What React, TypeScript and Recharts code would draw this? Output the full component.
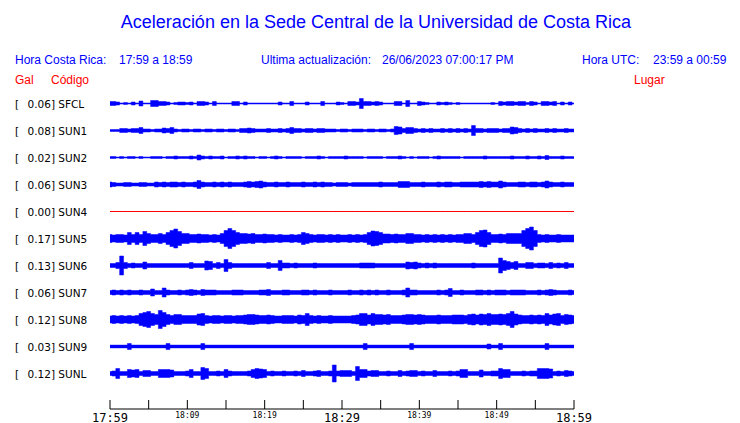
import React from 'react';
import { ComposedChart, Area, XAxis, YAxis } from 'recharts';

// station codes, peak acceleration (Gal) and site names, top to bottom
const stations = ['SFCL', 'SUN1', 'SUN2', 'SUN3', 'SUN4', 'SUN5', 'SUN6', 'SUN7', 'SUN8', 'SUN9', 'SUNL'];
const peakGal = ['0.06', '0.08', '0.02', '0.06', '0.00', '0.17', '0.13', '0.06', '0.12', '0.03', '0.12'];
const places = [
  'Finca El Corralillo, Coronado', 'CIMAR', 'Ingenieria P01', 'Ingenieria P06', 'EBCI', 'Rectoria',
  'Agroalimentarias', 'Archivo', 'Electrica P06', 'Electrica P01', 'LANAMME-CTT',
];

// x axis: minutes after 17:59, one tick every 5 min, labels every 10 min
const tickMinutes = [0, 5, 10, 15, 20, 25, 30, 35, 40, 45, 50, 55, 60];
const tickLabels = ['17:59', '', '18:09', '', '18:19', '', '18:29', '', '18:39', '', '18:49', '', '18:59'];
const majorLabels = ['17:59', '18:29', '18:59'];

// trace envelopes (half amplitude, display counts), one value every 30 s from 17:59 to 18:59
const sfcl = [
  2, 2, 1.5, 0.5, 1, 0.5, 1.5, 0.5, 2.5, 0.5,
  0.5, 3, 3, 2, 2, 1.5, 0.5, 1, 1.5, 1.5,
  1, 1.5, 0.5, 2, 2, 1.5, 0.5, 2, 0.5, 0.5,
  0.5, 0.5, 2, 2, 0.5, 1.5, 0.5, 0.5, 0.5, 0.5,
  0.5, 0.5, 0.5, 0.5, 1.5, 0.5, 0.5, 2, 0.5, 0.5,
  0.5, 1.5, 0.5, 0.5, 0.5, 2, 0.5, 0.5, 0.5, 1.5,
  1, 0.5, 2, 2, 1.5, 5, 2, 2, 1.5, 2,
  1.5, 0.5, 0.5, 0.5, 2, 2, 0.5, 3, 0.5, 0.5,
  2, 1.5, 1, 0.5, 0.5, 1.5, 1, 1.5, 1, 0.5,
  1, 0.5, 0.5, 0.5, 0.5, 0.5, 0.5, 0.5, 0.5, 1,
  0.5, 2, 1.5, 2, 2, 1.5, 2, 2, 1, 2,
  1.5, 0.5, 2, 2, 1.5, 2, 0.5, 1.5, 0.5, 1.5,
  0.5,
];
const sun1 = [
  1, 1, 1, 2, 2, 1.5, 2, 2, 3, 1.5,
  1.5, 1, 1.5, 1.5, 2.5, 2, 3, 1.5, 1, 1.5,
  1.5, 1, 1.5, 1.5, 1, 1.5, 1.5, 1, 1.5, 1.5,
  1, 1.5, 1.5, 1, 2, 2, 2.5, 2, 1.5, 1.5,
  1.5, 2, 1.5, 1.5, 2, 1.5, 2, 3, 2, 2,
  1.5, 2, 2, 1.5, 2, 2, 1.5, 1.5, 1.5, 1,
  1.5, 1.5, 1, 1.5, 1.5, 1.5, 1, 1.5, 1.5, 1,
  1.5, 1.5, 1, 1.5, 4, 3.5, 2, 3, 3, 2,
  1.5, 2, 1.5, 2, 1.5, 1.5, 2, 1.5, 2, 1.5,
  2, 1.5, 2, 1.5, 5, 2, 2, 1.5, 2, 2,
  2, 1.5, 2, 2, 3.5, 3, 2, 1.5, 2, 1.5,
  2, 1.5, 1.5, 2, 1.5, 2, 1.5, 1.5, 2, 1.5,
  1.5,
];
const sun2 = [
  1, 1, 0.5, 1, 0.5, 1, 1, 0.5, 1, 0.5,
  0.5, 1, 1, 1, 0.5, 1, 1, 1.5, 1, 1,
  1, 1.5, 1, 2.5, 1.5, 1, 1.5, 1, 1, 1.5,
  0.5, 1, 1, 1.5, 1, 1.5, 1, 1, 0.5, 1,
  1, 0.5, 1, 1.5, 1, 0.5, 1, 1, 1, 1,
  0.5, 1, 1, 1, 1.5, 1, 0.5, 1, 1, 1,
  1, 1.5, 1, 1, 1, 1, 0.5, 1, 1, 1,
  1, 0.5, 1, 1, 1, 1.5, 1, 0.5, 1, 0.5,
  1, 1, 1, 0.5, 1, 1.5, 1, 1, 1, 1,
  1, 0.5, 1, 1, 1, 1, 1, 1.5, 1, 1,
  1, 1, 1, 1, 1.5, 1, 1, 1, 1.5, 1,
  1, 1.5, 1, 2, 1, 1, 1, 1.5, 1, 1,
  1,
];
const sun3 = [
  2.5, 2, 1.5, 1.5, 2, 2, 1.5, 1.5, 2, 2,
  1.5, 1.5, 2.5, 2, 2.5, 2, 2.5, 2.5, 2, 2.5,
  2, 2, 2.5, 4, 2.5, 2, 2, 2.5, 2, 2.5,
  2, 2.5, 2, 2, 2, 2.5, 3, 2.5, 3, 3.5,
  2.5, 2, 2, 2.5, 2, 2, 2.5, 2, 2, 2,
  2.5, 2, 2, 2.5, 2, 2.5, 2, 2, 1.5, 2,
  2, 2, 1.5, 2, 2, 2, 2, 2, 2, 2,
  2.5, 2, 2, 2, 2, 3, 3, 3, 2, 2,
  2, 2.5, 2, 2, 2, 2.5, 2, 2.5, 2.5, 2,
  2, 2.5, 2.5, 2.5, 2.5, 2.5, 3, 2.5, 3, 2.5,
  2.5, 3.5, 2.5, 2, 2, 2, 2.5, 2.5, 2, 2.5,
  2.5, 2, 2.5, 3.5, 2.5, 2, 2, 2.5, 2, 2,
  2,
];
const sun4 = [
  0, 0, 0, 0, 0, 0, 0, 0, 0, 0,
  0, 0, 0, 0, 0, 0, 0, 0, 0, 0,
  0, 0, 0, 0, 0, 0, 0, 0, 0, 0,
  0, 0, 0, 0, 0, 0, 0, 0, 0, 0,
  0, 0, 0, 0, 0, 0, 0, 0, 0, 0,
  0, 0, 0, 0, 0, 0, 0, 0, 0, 0,
  0, 0, 0, 0, 0, 0, 0, 0, 0, 0,
  0, 0, 0, 0, 0, 0, 0, 0, 0, 0,
  0, 0, 0, 0, 0, 0, 0, 0, 0, 0,
  0, 0, 0, 0, 0, 0, 0, 0, 0, 0,
  0, 0, 0, 0, 0, 0, 0, 0, 0, 0,
  0, 0, 0, 0, 0, 0, 0, 0, 0, 0,
  0,
];
const sun5 = [
  4, 3.5, 4, 4, 3.5, 6, 4, 6, 4, 7,
  5, 4, 4, 5, 4, 6, 8, 9.5, 7, 5,
  5, 4, 4, 4.5, 4, 4, 3.5, 4, 3.5, 5,
  8, 10, 8, 6, 5, 5, 4.5, 5, 4, 4,
  4.5, 4, 4, 3.5, 4, 3.5, 3.5, 4, 3.5, 4,
  6, 5, 4, 3.5, 4, 4, 3.5, 4, 3.5, 4,
  3.5, 3.5, 4, 3.5, 4, 3.5, 4, 6, 7.5, 7,
  6, 4.5, 4.5, 4, 4.5, 4, 4, 5, 5, 4,
  4, 3.5, 4, 3.5, 4, 3.5, 4, 3.5, 4, 3.5,
  4, 4, 5, 5, 4, 6, 8, 8.5, 6, 4,
  4, 4.5, 4, 5, 5, 5, 5, 8, 10, 11.5,
  8, 4, 3.5, 4, 3.5, 3.5, 4, 3.5, 3.5, 3.5,
  3.5,
];
const sun6 = [
  2, 2, 3, 9.5, 3, 2, 2.5, 2, 2, 3.5,
  2, 2, 2, 2, 2, 2, 2, 2, 2, 2,
  2, 3, 2, 2, 2, 4.5, 4, 2, 3, 2,
  6, 3, 2, 2, 2, 2, 2, 2, 2, 2,
  2, 3, 2, 2, 5, 2.5, 2.5, 2, 2.5, 2,
  2, 2, 2, 2.5, 2, 2, 2, 2, 2, 2,
  2, 2, 2, 2, 2, 2.5, 2.5, 2.5, 2.5, 2,
  2, 2, 2, 2, 2, 2, 2, 3.5, 3, 3.5,
  2.5, 2, 2.5, 2, 2.5, 2, 2, 2, 2, 2,
  2, 2, 2, 2, 2.5, 2, 2, 2, 2, 2,
  2, 7.5, 5, 4, 3, 4, 2, 2, 3, 3,
  2, 2.5, 2.5, 2, 3, 2, 2.5, 2, 3, 2,
  2,
];
const sun7 = [
  2, 2.5, 2, 2.5, 2, 2.5, 2, 2, 2.5, 2,
  2, 3.5, 2, 2, 4.5, 2.5, 2, 2, 2.5, 2,
  2.5, 3, 2.5, 2, 3, 2.5, 2.5, 2.5, 2, 2,
  2, 2, 2.5, 2.5, 2.5, 2, 2, 2, 2, 2.5,
  2.5, 3, 2, 2, 2, 2.5, 2.5, 2, 2, 2,
  2.5, 2.5, 2, 2.5, 2, 2, 2, 2.5, 2, 2,
  2, 2, 2.5, 2, 2, 2.5, 2, 2.5, 2, 2.5,
  2, 2, 2.5, 2, 2, 2, 2.5, 4.5, 2.5, 2.5,
  2, 2, 2, 2, 2, 2.5, 2, 2.5, 4, 2,
  2, 2.5, 2, 2, 2, 2.5, 2.5, 2, 2.5, 2,
  2.5, 2.5, 2.5, 2, 2.5, 2.5, 2.5, 2.5, 2, 2,
  2, 2.5, 2, 2.5, 3, 2.5, 2, 2, 2, 2.5,
  2,
];
const sun8 = [
  3.5, 4, 3.5, 4, 3.5, 4, 3.5, 4, 6, 7,
  8, 6, 5, 9, 7, 5, 4, 5, 5, 4,
  4, 4, 4, 5.5, 6, 4, 3.5, 4, 4, 3.5,
  4, 4, 3.5, 4, 4, 4.5, 5, 5, 4.5, 4,
  4, 4.5, 4, 3.5, 3.5, 4, 4, 4, 3.5, 4.5,
  4, 6, 4, 3.5, 4, 3.5, 3.5, 4, 3.5, 3.5,
  3.5, 3.5, 3.5, 4, 4.5, 6, 6, 4.5, 6, 5,
  5, 4.5, 5, 4, 4, 4, 4.5, 5, 5, 4.5,
  5, 4.5, 4, 4, 4, 4.5, 4, 4, 4, 4.5,
  4.5, 4.5, 4, 5, 5.5, 4.5, 5.5, 5, 6, 5,
  5, 5.5, 5, 6, 8, 5.5, 4.5, 4, 4, 4.5,
  4, 4.5, 4, 6, 4.5, 5.5, 6, 4, 5, 4.5,
  4,
];
const sun9 = [
  1.4, 1.4, 1.4, 1.4, 1.4, 3, 1.4, 1.4, 1.4, 1.4,
  1.4, 1.4, 1.4, 1.4, 1.4, 3, 1.4, 1.4, 1.4, 1.4,
  1.4, 1.4, 1.4, 1.4, 3, 1.4, 1.4, 1.4, 1.4, 1.4,
  1.4, 1.4, 1.4, 1.4, 1.4, 1.4, 1.4, 1.4, 1.4, 1.4,
  1.4, 1.4, 1.4, 1.4, 1.4, 1.4, 1.4, 1.4, 1.4, 1.4,
  1.4, 1.4, 1.4, 1.4, 1.4, 1.4, 1.4, 1.4, 1.4, 1.4,
  1.4, 1.4, 1.4, 1.4, 1.4, 1.4, 3, 1.4, 1.4, 1.4,
  1.4, 1.4, 1.4, 1.4, 1.4, 1.4, 1.4, 1.4, 3, 1.4,
  1.4, 1.4, 1.4, 1.4, 1.4, 1.4, 1.4, 1.4, 1.4, 1.4,
  1.4, 1.4, 1.4, 1.4, 1.4, 1.4, 1.4, 1.4, 2.5, 1.4,
  1.4, 3, 1.4, 1.4, 1.4, 1.4, 1.4, 1.4, 1.4, 1.4,
  1.4, 1.4, 1.4, 3, 1.4, 1.4, 1.4, 1.4, 1.4, 1.4,
  1.4,
];
const sunl = [
  2, 2.5, 5, 2, 2, 4, 3.5, 4, 2, 3,
  3, 2, 2, 4, 4, 4, 3.5, 2, 2, 2,
  2.5, 4, 2, 2, 6, 5, 2, 2, 2.5, 2,
  4, 2.5, 2, 2, 2, 2, 2.5, 4, 5, 4.5,
  4, 2, 2.5, 2, 2, 2.5, 2, 2, 2.5, 2,
  3, 2, 2, 2.5, 3, 2, 2, 2.5, 8.5, 2.5,
  3, 3, 3, 2, 7, 4, 4, 2.5, 3, 3,
  2, 2, 2.5, 2, 2, 3, 2, 2.5, 3, 3,
  2, 2.5, 2, 2, 3, 2, 2, 2, 2.5, 2,
  2.5, 4, 4, 2, 2, 2, 3.5, 2, 2, 2.5,
  2.5, 5, 4, 4, 2, 2, 2, 2.5, 2, 2.5,
  2.5, 5, 5, 5, 4.5, 2, 2.5, 2, 3, 2.5,
  2,
];

const traces = [sfcl, sun1, sun2, sun3, sun4, sun5, sun6, sun7, sun8, sun9, sunl];

const W = 740;
const H = 423;
const TOP = 90;
const X_AXIS_H = 14;
const PLOT_H = H - TOP - X_AXIS_H;
const AXIS_Y = H - X_AXIS_H;
const FIRST = 13.5;
const GAP = 27;
const BLUE = '#0000ff';
const RED = '#ff0000';

const baselines = stations.map((_, i) => FIRST + GAP * i);

const rows = traces[0].map((_, k) => {
  const row: Record<string, number | number[]> = { t: k / 2 };
  traces.forEach((amp, i) => {
    row['s' + i] = [baselines[i] - amp[k], baselines[i] + amp[k]];
  });
  return row;
});

const sans = '"Liberation Sans", Arial, sans-serif';
const dejavu = '"DejaVu Sans", sans-serif';
const mono = '"DejaVu Sans Mono", monospace';

function LeftTick(props: any) {
  const i = baselines.indexOf(props.payload.value);
  if (i < 0) return null;
  return (
    <g fontFamily={dejavu} fontSize={10.5} fill="#000">
      <text x={15} y={props.y} dominantBaseline="central">[</text>
      <text x={27.5} y={props.y} dominantBaseline="central">{`${peakGal[i]}] ${stations[i]}`}</text>
    </g>
  );
}

function RightTick(props: any) {
  const i = baselines.indexOf(props.payload.value);
  if (i < 0) return null;
  return (
    <text x={587} y={props.y} dominantBaseline="central" fontFamily={dejavu} fontSize={10.5} fill="#000">
      {places[i]}
    </text>
  );
}

function TimeTick(props: any) {
  const idx = tickMinutes.indexOf(props.payload.value);
  const label = tickLabels[idx] || '';
  const major = majorLabels.includes(label);
  return (
    <g>
      <line x1={props.x} x2={props.x} y1={AXIS_Y - 9} y2={AXIS_Y} stroke="#000" strokeWidth={1} />
      {label && (
        <text
          x={props.x}
          y={major ? AXIS_Y + 12.5 : AXIS_Y + 9}
          textAnchor="middle"
          fontFamily={mono}
          fontSize={major ? 12 : 8}
          fill="#000"
        >
          {label}
        </text>
      )}
    </g>
  );
}

const abs = (left: number, top: number, extra: React.CSSProperties = {}): React.CSSProperties => ({
  position: 'absolute',
  left,
  top,
  whiteSpace: 'pre',
  fontFamily: sans,
  fontSize: 12,
  lineHeight: '14px',
  color: BLUE,
  ...extra,
});

export default function App() {
  return (
    <div style={{ position: 'absolute', left: 0, top: 0, width: W, height: H, background: '#fff' }}>
      <ComposedChart width={W} height={H} data={rows} margin={{ top: TOP, right: 0, bottom: 0, left: 0 }}>
        <XAxis
          dataKey="t"
          type="number"
          domain={[0, 60]}
          ticks={tickMinutes}
          interval={0}
          height={X_AXIS_H}
          tickLine={false}
          tickSize={0}
          tick={<TimeTick />}
          axisLine={{ stroke: '#000', strokeWidth: 1 }}
        />
        <YAxis
          yAxisId="l"
          orientation="left"
          width={110}
          type="number"
          reversed
          domain={[0, PLOT_H]}
          ticks={baselines}
          interval={0}
          axisLine={false}
          tickLine={false}
          tick={<LeftTick />}
        />
        <YAxis
          yAxisId="r"
          orientation="right"
          width={W - 574}
          type="number"
          reversed
          domain={[0, PLOT_H]}
          ticks={baselines}
          interval={0}
          axisLine={false}
          tickLine={false}
          tick={<RightTick />}
        />
        {stations.map((s, i) => (
          <Area
            key={s}
            yAxisId="l"
            dataKey={'s' + i}
            type="step"
            stroke={s === 'SUN4' ? RED : BLUE}
            strokeWidth={s === 'SUN4' ? 1 : 0.5}
            fill={BLUE}
            fillOpacity={1}
            dot={false}
            activeDot={false}
            isAnimationActive={false}
          />
        ))}
      </ComposedChart>
      <div style={abs(0, 11, { width: 752, textAlign: 'center', fontSize: 18, lineHeight: '22px' })}>
        Aceleración en la Sede Central de la Universidad de Costa Rica
      </div>
      <div style={abs(15, 53)}>Hora Costa Rica:</div>
      <div style={abs(119, 53)}>17:59 a 18:59</div>
      <div style={abs(261, 53)}>Ultima actualización:</div>
      <div style={abs(382, 53)}>26/06/2023 07:00:17 PM</div>
      <div style={abs(582, 53)}>Hora UTC:</div>
      <div style={abs(653, 53)}>23:59 a 00:59</div>
      <div style={abs(15, 73, { color: RED })}>Gal</div>
      <div style={abs(51, 73, { color: RED })}>Código</div>
      <div style={abs(634, 73, { color: RED })}>Lugar</div>
    </div>
  );
}
